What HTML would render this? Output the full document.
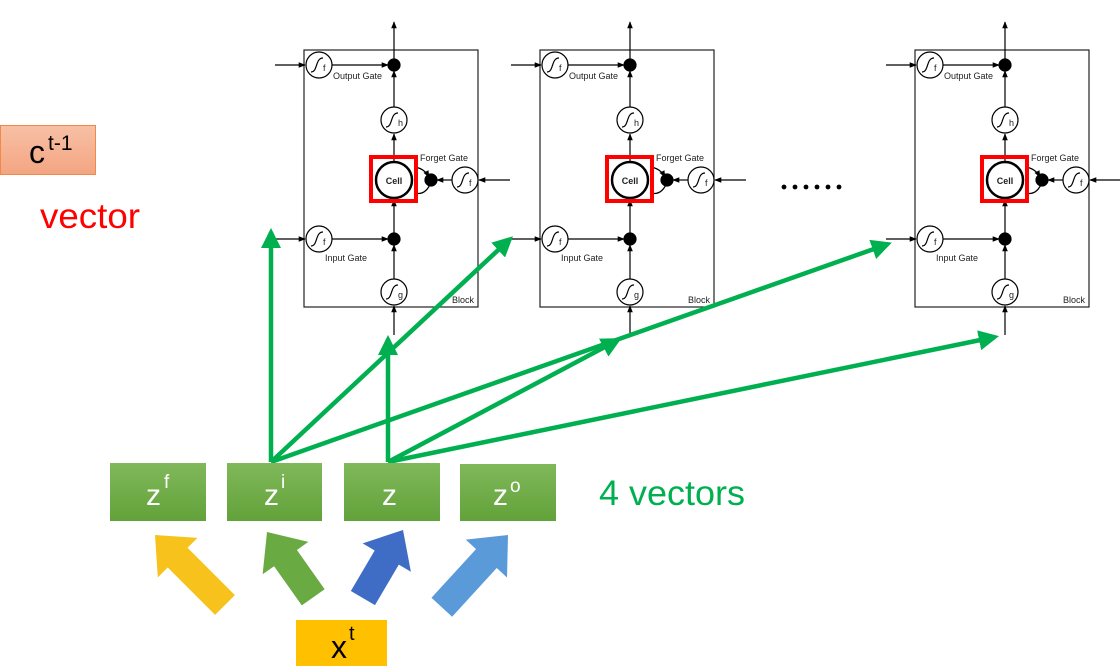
<!DOCTYPE html>
<html><head><meta charset="utf-8"><style>
html,body{margin:0;padding:0;background:#fff;}
svg{display:block;font-family:"Liberation Sans","DejaVu Sans",sans-serif;}
</style></head><body>
<svg width="1120" height="672" viewBox="0 0 1120 672" xmlns="http://www.w3.org/2000/svg">
<defs>
<marker id="ah" viewBox="0 0 10 10" refX="9" refY="5" markerWidth="7" markerHeight="7" orient="auto" markerUnits="userSpaceOnUse"><path d="M0,1 L10,5 L0,9 z" fill="#000"/></marker>
<marker id="ga" viewBox="0 0 10 10" refX="8" refY="5" markerWidth="4.5" markerHeight="4.5" orient="auto"><path d="M0,0 L10,5 L0,10 z" fill="#00b050"/></marker>
<linearGradient id="gg" x1="0" y1="0" x2="0" y2="1"><stop offset="0" stop-color="#80b85a"/><stop offset="1" stop-color="#62a23a"/></linearGradient>
<linearGradient id="cg" x1="0" y1="0" x2="0" y2="1"><stop offset="0" stop-color="#f7c0a5"/><stop offset="1" stop-color="#f4a582"/></linearGradient>
</defs>

<rect x="0.5" y="125.5" width="95" height="49" fill="url(#cg)" stroke="#f08a4b" stroke-width="1"/>
<text x="29" y="163" font-size="32" fill="#000">c</text><text x="48" y="150" font-size="21" fill="#000">t-1</text>
<text x="40" y="228" font-size="35" fill="#ff0000" textLength="100" lengthAdjust="spacingAndGlyphs">vector</text>

<g fill="none" stroke="#000" stroke-width="1.2">
<rect x="304" y="50" width="174" height="257" stroke="#222"/>
<line x1="394" y1="65" x2="394" y2="22" marker-end="url(#ah)"/>
<line x1="275" y1="65" x2="305" y2="65" marker-end="url(#ah)"/>
<line x1="332" y1="65" x2="388" y2="65" marker-end="url(#ah)"/>
<line x1="394" y1="107" x2="394" y2="71" marker-end="url(#ah)"/>
<line x1="394" y1="161" x2="394" y2="134" marker-end="url(#ah)"/>
<line x1="394" y1="233" x2="394" y2="200" marker-end="url(#ah)"/>
<line x1="394" y1="279" x2="394" y2="245" marker-end="url(#ah)"/>
<line x1="394" y1="335" x2="394" y2="306" marker-end="url(#ah)"/>
<line x1="275" y1="239" x2="305" y2="239" marker-end="url(#ah)"/>
<line x1="332" y1="239" x2="388" y2="239" marker-end="url(#ah)"/>
<line x1="510" y1="180" x2="479" y2="180" marker-end="url(#ah)"/>
<line x1="452" y1="180" x2="437" y2="180" marker-end="url(#ah)"/>
<path d="M414,167 Q424,168 429,177" marker-end="url(#ah)"/>
<path d="M431,182 Q426,196 414,193"/>
<circle cx="319" cy="65" r="13" fill="#fff"/><circle cx="394" cy="120" r="13" fill="#fff"/><circle cx="465" cy="180" r="13" fill="#fff"/><circle cx="319" cy="239" r="13" fill="#fff"/><circle cx="394" cy="292" r="13" fill="#fff"/>
<path d="M311,72 C318,72 315,58 323,58"/><path d="M386,127 C393,127 390,113 398,113"/><path d="M457,187 C464,187 461,173 469,173"/><path d="M311,246 C318,246 315,232 323,232"/><path d="M386,299 C393,299 390,285 398,285"/>
<circle cx="394" cy="65" r="6" fill="#000"/><circle cx="394" cy="239" r="6" fill="#000"/><circle cx="431" cy="180" r="6" fill="#000"/>
<circle cx="394" cy="180" r="18" fill="#fff" stroke-width="2.5"/>
<rect x="371" y="157" width="45" height="44" stroke="#f00" stroke-width="4"/>
</g>
<g font-size="9" fill="#222">
<text x="323" y="71">f</text><text x="398" y="126">h</text><text x="469" y="186">f</text><text x="323" y="245">f</text><text x="398" y="298">g</text>
<text x="333" y="79">Output Gate</text><text x="325" y="261">Input Gate</text><text x="420" y="161">Forget Gate</text><text x="474" y="303" text-anchor="end">Block</text>
<text x="394" y="184" text-anchor="middle" font-weight="bold">Cell</text>
</g>

<g transform="translate(236,0)">
<g fill="none" stroke="#000" stroke-width="1.2">
<rect x="304" y="50" width="174" height="257" stroke="#222"/>
<line x1="394" y1="65" x2="394" y2="22" marker-end="url(#ah)"/>
<line x1="275" y1="65" x2="305" y2="65" marker-end="url(#ah)"/>
<line x1="332" y1="65" x2="388" y2="65" marker-end="url(#ah)"/>
<line x1="394" y1="107" x2="394" y2="71" marker-end="url(#ah)"/>
<line x1="394" y1="161" x2="394" y2="134" marker-end="url(#ah)"/>
<line x1="394" y1="233" x2="394" y2="200" marker-end="url(#ah)"/>
<line x1="394" y1="279" x2="394" y2="245" marker-end="url(#ah)"/>
<line x1="394" y1="335" x2="394" y2="306" marker-end="url(#ah)"/>
<line x1="275" y1="239" x2="305" y2="239" marker-end="url(#ah)"/>
<line x1="332" y1="239" x2="388" y2="239" marker-end="url(#ah)"/>
<line x1="510" y1="180" x2="479" y2="180" marker-end="url(#ah)"/>
<line x1="452" y1="180" x2="437" y2="180" marker-end="url(#ah)"/>
<path d="M414,167 Q424,168 429,177" marker-end="url(#ah)"/>
<path d="M431,182 Q426,196 414,193"/>
<circle cx="319" cy="65" r="13" fill="#fff"/><circle cx="394" cy="120" r="13" fill="#fff"/><circle cx="465" cy="180" r="13" fill="#fff"/><circle cx="319" cy="239" r="13" fill="#fff"/><circle cx="394" cy="292" r="13" fill="#fff"/>
<path d="M311,72 C318,72 315,58 323,58"/><path d="M386,127 C393,127 390,113 398,113"/><path d="M457,187 C464,187 461,173 469,173"/><path d="M311,246 C318,246 315,232 323,232"/><path d="M386,299 C393,299 390,285 398,285"/>
<circle cx="394" cy="65" r="6" fill="#000"/><circle cx="394" cy="239" r="6" fill="#000"/><circle cx="431" cy="180" r="6" fill="#000"/>
<circle cx="394" cy="180" r="18" fill="#fff" stroke-width="2.5"/>
<rect x="371" y="157" width="45" height="44" stroke="#f00" stroke-width="4"/>
</g>
<g font-size="9" fill="#222">
<text x="323" y="71">f</text><text x="398" y="126">h</text><text x="469" y="186">f</text><text x="323" y="245">f</text><text x="398" y="298">g</text>
<text x="333" y="79">Output Gate</text><text x="325" y="261">Input Gate</text><text x="420" y="161">Forget Gate</text><text x="474" y="303" text-anchor="end">Block</text>
<text x="394" y="184" text-anchor="middle" font-weight="bold">Cell</text>
</g>
</g>

<g transform="translate(611,0)">
<g fill="none" stroke="#000" stroke-width="1.2">
<rect x="304" y="50" width="174" height="257" stroke="#222"/>
<line x1="394" y1="65" x2="394" y2="22" marker-end="url(#ah)"/>
<line x1="275" y1="65" x2="305" y2="65" marker-end="url(#ah)"/>
<line x1="332" y1="65" x2="388" y2="65" marker-end="url(#ah)"/>
<line x1="394" y1="107" x2="394" y2="71" marker-end="url(#ah)"/>
<line x1="394" y1="161" x2="394" y2="134" marker-end="url(#ah)"/>
<line x1="394" y1="233" x2="394" y2="200" marker-end="url(#ah)"/>
<line x1="394" y1="279" x2="394" y2="245" marker-end="url(#ah)"/>
<line x1="394" y1="335" x2="394" y2="306" marker-end="url(#ah)"/>
<line x1="275" y1="239" x2="305" y2="239" marker-end="url(#ah)"/>
<line x1="332" y1="239" x2="388" y2="239" marker-end="url(#ah)"/>
<line x1="510" y1="180" x2="479" y2="180" marker-end="url(#ah)"/>
<line x1="452" y1="180" x2="437" y2="180" marker-end="url(#ah)"/>
<path d="M414,167 Q424,168 429,177" marker-end="url(#ah)"/>
<path d="M431,182 Q426,196 414,193"/>
<circle cx="319" cy="65" r="13" fill="#fff"/><circle cx="394" cy="120" r="13" fill="#fff"/><circle cx="465" cy="180" r="13" fill="#fff"/><circle cx="319" cy="239" r="13" fill="#fff"/><circle cx="394" cy="292" r="13" fill="#fff"/>
<path d="M311,72 C318,72 315,58 323,58"/><path d="M386,127 C393,127 390,113 398,113"/><path d="M457,187 C464,187 461,173 469,173"/><path d="M311,246 C318,246 315,232 323,232"/><path d="M386,299 C393,299 390,285 398,285"/>
<circle cx="394" cy="65" r="6" fill="#000"/><circle cx="394" cy="239" r="6" fill="#000"/><circle cx="431" cy="180" r="6" fill="#000"/>
<circle cx="394" cy="180" r="18" fill="#fff" stroke-width="2.5"/>
<rect x="371" y="157" width="45" height="44" stroke="#f00" stroke-width="4"/>
</g>
<g font-size="9" fill="#222">
<text x="323" y="71">f</text><text x="398" y="126">h</text><text x="469" y="186">f</text><text x="323" y="245">f</text><text x="398" y="298">g</text>
<text x="333" y="79">Output Gate</text><text x="325" y="261">Input Gate</text><text x="420" y="161">Forget Gate</text><text x="474" y="303" text-anchor="end">Block</text>
<text x="394" y="184" text-anchor="middle" font-weight="bold">Cell</text>
</g>
</g>

<g fill="#000"><circle cx="784" cy="187" r="2.4"/><circle cx="795" cy="187" r="2.4"/><circle cx="806" cy="187" r="2.4"/><circle cx="817" cy="187" r="2.4"/><circle cx="828" cy="187" r="2.4"/><circle cx="839" cy="187" r="2.4"/></g>

<g stroke="#00b050" stroke-width="4.5" fill="none" marker-end="url(#ga)">
<line x1="271" y1="462" x2="271" y2="232"/>
<line x1="271" y1="462" x2="510" y2="239"/>
<line x1="271" y1="462" x2="888" y2="244"/>
<line x1="388" y1="462" x2="388" y2="339"/>
<line x1="388" y1="462" x2="618" y2="340"/>
<line x1="388" y1="462" x2="995" y2="337"/>
</g>

<rect x="110" y="463" width="96" height="58" fill="url(#gg)"/>
<rect x="227" y="463" width="95" height="58" fill="url(#gg)"/>
<rect x="344" y="463" width="96" height="58" fill="url(#gg)"/>
<rect x="460" y="464" width="96" height="57" fill="url(#gg)"/>
<g fill="#fff" font-size="30">
<text x="146" y="505">z</text><text x="164" y="488" font-size="19">f</text>
<text x="264" y="505">z</text><text x="281" y="488" font-size="19">i</text>
<text x="382" y="505">z</text>
<text x="493" y="505">z</text><text x="510" y="492" font-size="19">o</text>
</g>
<text x="599" y="505" font-size="35" fill="#00b050" textLength="146" lengthAdjust="spacingAndGlyphs">4 vectors</text>

<polygon transform="translate(155,535) rotate(225)" points="0,0 -32,-28 -32,-14 -99,-14 -99,14 -32,14 -32,28" fill="#f7c21b"/>
<polygon transform="translate(267,532) rotate(234.7)" points="0,0 -32,-28 -32,-14 -80,-14 -80,14 -32,14 -32,28" fill="#6aaa42"/>
<polygon transform="translate(403,530) rotate(-59.5)" points="0,0 -32,-28 -32,-14 -79,-14 -79,14 -32,14 -32,28" fill="#3f6cc4"/>
<polygon transform="translate(508,535) rotate(-47.5)" points="0,0 -32,-28 -32,-14 -98,-14 -98,14 -32,14 -32,28" fill="#5a9ad8"/>

<rect x="296" y="620" width="91" height="46" fill="#ffc000"/>
<text x="331" y="658" font-size="32" fill="#000">x</text><text x="349" y="640" font-size="20" fill="#000">t</text>
</svg>
</body></html>
